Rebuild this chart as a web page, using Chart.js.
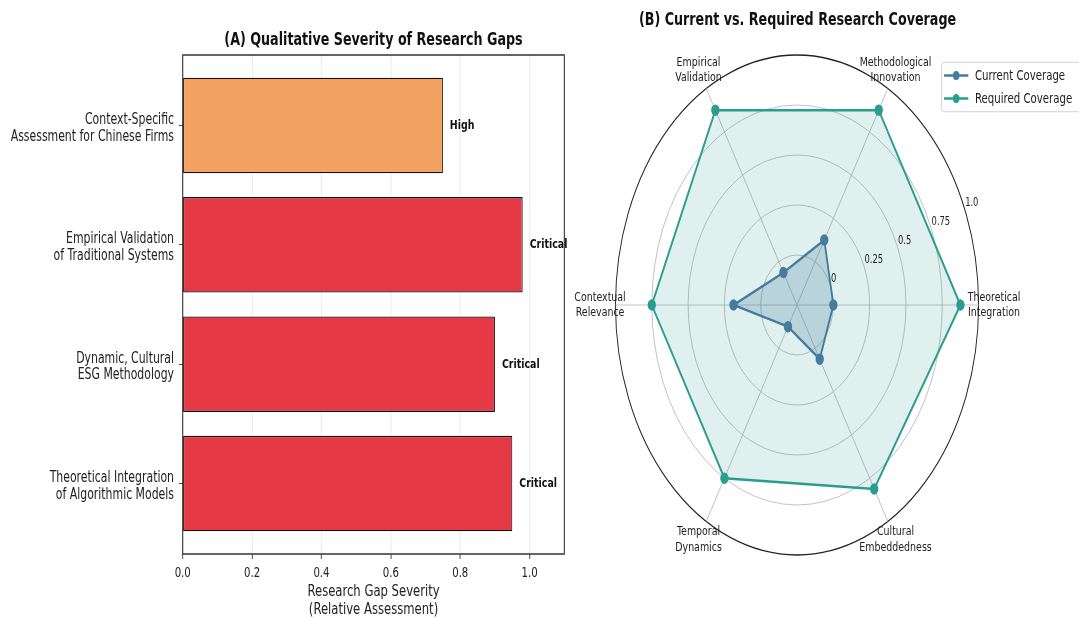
<!DOCTYPE html>
<html><head><meta charset="utf-8">
<script src="https://cdn.jsdelivr.net/npm/chart.js@4.4.1/dist/chart.umd.min.js"></script>
<style>
html,body{margin:0;padding:0;background:#fff;overflow:hidden;width:1079px;height:618px;}
#barCanvas{position:absolute;left:0;top:0;}
#radarCanvas{position:absolute;left:516px;top:0;}
</style></head><body>
<canvas id="barCanvas" width="800" height="618"></canvas>
<canvas id="radarCanvas" width="776" height="618"></canvas>
<script>
// ---------- data: panel A ----------
const gapCategories = [
  ['Theoretical Integration', 'of Algorithmic Models'],
  ['Dynamic, Cultural', 'ESG Methodology'],
  ['Empirical Validation', 'of Traditional Systems'],
  ['Context-Specific', 'Assessment for Chinese Firms']
];
const gapSeverity = [0.95, 0.90, 0.98, 0.75];
const gapLevels = ['Critical', 'Critical', 'Critical', 'High'];
const severityTicks = [0, 0.2, 0.4, 0.6, 0.8, 1.0];

// ---------- data: panel B ----------
const coverageDims = [
  ['Theoretical', 'Integration'],
  ['Methodological', 'Innovation'],
  ['Empirical', 'Validation'],
  ['Contextual', 'Relevance'],
  ['Temporal', 'Dynamics'],
  ['Cultural', 'Embeddedness']
];
const currentCoverage = [0.20, 0.30, 0.15, 0.35, 0.10, 0.25];
const requiredCoverage = [0.90, 0.90, 0.90, 0.80, 0.80, 0.85];
const ringValues = [0.2, 0.4, 0.6, 0.8, 1.0];
const ringLabels = ['0', '0.25', '0.5', '0.75', '1.0'];

// ---------- styles ----------
const FONT = "'DejaVu Sans', 'Liberation Sans', sans-serif";
Chart.defaults.font.family = FONT;
const levelColors = {Critical: '#E63946', High: '#F4A261'};
const SX = 0.7262; // horizontal compression of the source figure

// draw everything horizontally compressed, like the source image
const squishPlugin = {
  id: 'squish',
  beforeDraw(chart) { chart.ctx.setTransform(SX, 0, 0, 1, 0, 0); }
};
function squish(chart) {
  const c = chart.canvas;
  const pw = Math.round(chart.width * SX);
  c.width = pw;
  c.style.width = pw + 'px';
  chart.draw();
}

// ---------- Panel A ----------
const barLabelPlugin = {
  id: 'barLabels',
  afterDraw(chart) {
    const {ctx, chartArea: a} = chart;
    const xs = chart.scales.x, ys = chart.scales.y;
    ctx.save();
    ctx.font = 'bold 13px ' + FONT;
    ctx.fillStyle = '#111';
    ctx.textAlign = 'left';
    ctx.textBaseline = 'middle';
    gapSeverity.forEach((v, i) => {
      ctx.fillText(gapLevels[i], xs.getPixelForValue(v + 0.02), ys.getPixelForValue(i));
    });
    ctx.strokeStyle = '#333';
    ctx.lineWidth = 1.5;
    ctx.strokeRect(a.left, a.top, a.right - a.left, a.bottom - a.top);
    ctx.restore();
  }
};

const barChart = new Chart(document.getElementById('barCanvas'), {
  type: 'bar',
  data: {
    datasets: [{
      data: gapSeverity.map((v, i) => ({x: v, y: i})),
      backgroundColor: gapLevels.map(l => levelColors[l]),
      borderColor: '#111',
      borderWidth: 1.4,
      borderSkipped: false,
      barPercentage: 0.8,
      categoryPercentage: 1.0
    }]
  },
  options: {
    indexAxis: 'y',
    responsive: false,
    animation: false,
    devicePixelRatio: 1,
    layout: {padding: {left: 0, right: 22.9, top: 0, bottom: 0}},
    plugins: {
      legend: {display: false},
      tooltip: {enabled: false},
      title: {
        display: true, fullSize: false,
        text: '(A) Qualitative Severity of Research Gaps',
        color: '#111',
        font: {size: 17.5, weight: 'bold', lineHeight: 1.2},
        padding: {top: 30, bottom: 4}
      }
    },
    scales: {
      x: {
        type: 'linear', min: 0, max: 1.1, position: 'bottom', z: 1, offset: false,
        afterBuildTicks(s) { s.ticks = severityTicks.map(v => ({value: v})); },
        afterFit(s) { s.height = 64; },
        grid: {color: 'rgba(176,176,176,0.3)', lineWidth: 1, tickLength: 5, tickColor: '#333', offset: false},
        border: {display: false},
        ticks: {padding: 5.5, color: '#222', font: {size: 14}, callback: v => Number(v).toFixed(1)},
        title: {
          display: true,
          text: ['Research Gap Severity', '(Relative Assessment)'],
          color: '#222',
          font: {size: 16, lineHeight: 1.08},
          padding: {top: 0, bottom: 0}
        }
      },
      y: {
        type: 'linear', min: -0.59, max: 3.59, position: 'left', offset: false,
        afterBuildTicks(s) { s.ticks = gapCategories.map((_, i) => ({value: i})); },
        afterFit(s) { s.width = 251.6; },
        grid: {drawOnChartArea: false, drawTicks: true, tickLength: 5.5, tickColor: '#333', offset: false},
        border: {display: false},
        ticks: {padding: 6.5, color: '#222', labelOffset: 3, font: {size: 15, lineHeight: 1.1},
                callback: v => gapCategories[Math.round(v)]}
      }
    }
  },
  plugins: [squishPlugin, barLabelPlugin]
});
squish(barChart);

// ---------- Panel B ----------
const radarOrder = [0, 5, 4, 3, 2, 1]; // counter-clockwise from east, as in the source figure
const OFF = 516 / SX; // logical x offset of the radar canvas

const radarExtras = {
  id: 'radarExtras',
  afterDraw(chart) {
    const {ctx} = chart;
    const s = chart.scales.r;
    ctx.save();
    // radial tick labels at 22.5 degrees
    ctx.font = '11.5px ' + FONT;
    ctx.fillStyle = '#222';
    ctx.textAlign = 'left';
    ctx.textBaseline = 'bottom';
    const ang = 22.5 * Math.PI / 180;
    ringValues.forEach((v, k) => {
      const r = s.getDistanceFromCenterForValue(v);
      ctx.fillText(ringLabels[k], s.xCenter + r * Math.cos(ang) + 0.5, s.yCenter - r * Math.sin(ang) - 1);
    });
    // category labels
    ctx.font = '13px ' + FONT;
    ctx.textAlign = 'center';
    ctx.textBaseline = 'middle';
    const lh = 15.6;
    chart.data.labels.forEach((lab, i) => {
      const p = s.getPointPosition(i, s.drawingArea * 1.085);
      lab.forEach((line, k) => {
        ctx.fillText(line, p.x, p.y + (k - (lab.length - 1) / 2) * lh);
      });
    });
    // legend
    const bx = 1296.7 - OFF, by = 62.3, bw = 200, bh = 49.4;
    ctx.fillStyle = 'rgba(255,255,255,0.8)';
    ctx.strokeStyle = '#cccccc';
    ctx.lineWidth = 1;
    ctx.beginPath();
    ctx.roundRect(bx, by, bw, bh, 3);
    ctx.fill();
    ctx.stroke();
    ctx.font = '14px ' + FONT;
    ctx.textAlign = 'left';
    ctx.textBaseline = 'middle';
    chart.data.datasets.forEach((ds, k) => {
      const y = 75.5 + k * 23;
      const x0 = 1300 - OFF, x1 = 1333.4 - OFF;
      ctx.strokeStyle = ds.borderColor;
      ctx.lineWidth = 2.5;
      ctx.beginPath(); ctx.moveTo(x0, y); ctx.lineTo(x1, y); ctx.stroke();
      ctx.fillStyle = ds.borderColor;
      ctx.beginPath(); ctx.arc((x0 + x1) / 2, y, 4.5, 0, Math.PI * 2); ctx.fill();
      ctx.fillStyle = '#222';
      ctx.fillText(ds.label, 1342.6 - OFF, y + 0.5);
    });
    ctx.restore();
  }
};

const radarChart = new Chart(document.getElementById('radarCanvas'), {
  type: 'radar',
  data: {
    labels: radarOrder.map(i => coverageDims[i]),
    datasets: [
      {
        label: 'Current Coverage',
        data: radarOrder.map(i => currentCoverage[i]),
        borderColor: '#457B9D', backgroundColor: 'rgba(69,123,157,0.25)',
        pointBackgroundColor: '#457B9D', pointBorderColor: '#457B9D',
        pointRadius: 4.5, borderWidth: 2.5, fill: 'origin'
      },
      {
        label: 'Required Coverage',
        data: radarOrder.map(i => requiredCoverage[i]),
        borderColor: '#2A9D8F', backgroundColor: 'rgba(42,157,143,0.15)',
        pointBackgroundColor: '#2A9D8F', pointBorderColor: '#2A9D8F',
        pointRadius: 4.5, borderWidth: 2.5, fill: 'origin'
      }
    ]
  },
  options: {
    responsive: false,
    animation: false,
    devicePixelRatio: 1,
    layout: {padding: {left: 848.2 - OFF, right: 776 - (848.2 - OFF) - 500, top: 0, bottom: 63}},
    plugins: {
      legend: {display: false},
      tooltip: {enabled: false},
      title: {
        display: true,
        text: '(B) Current vs. Required Research Coverage',
        color: '#111',
        font: {size: 17.5, weight: 'bold', lineHeight: 1.2},
        padding: {top: 9.5, bottom: 24.5}
      }
    },
    scales: {
      r: {
        min: 0, max: 1, startAngle: 90,
        ticks: {display: false, stepSize: 0.2},
        pointLabels: {display: false},
        grid: {
          circular: true,
          color: c => (c.tick && c.tick.value > 0.999) ? '#222' : '#b8b8b8',
          lineWidth: c => (c.tick && c.tick.value > 0.999) ? 1.3 : 1
        },
        angleLines: {color: '#b8b8b8', lineWidth: 1}
      }
    }
  },
  plugins: [squishPlugin, radarExtras]
});
squish(radarChart);
</script>
</body></html>
